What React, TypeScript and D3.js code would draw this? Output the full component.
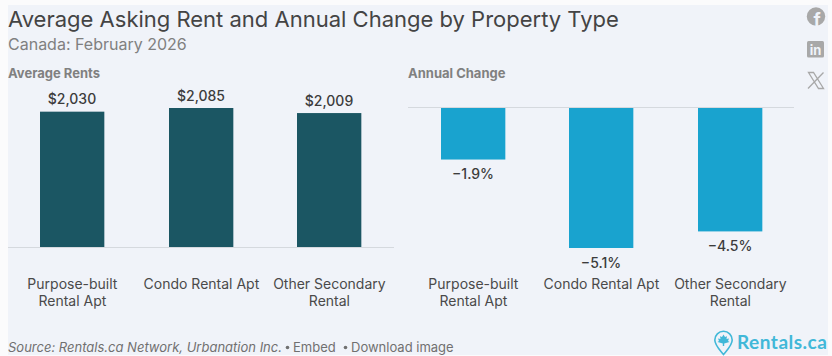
import React from "react";
import * as d3 from "d3";

const categories = ["Purpose-built|Rental Apt", "Condo Rental Apt", "Other Secondary|Rental"];
const rents = [2030, 2085, 2009];
const rentLabels = ["$2,030", "$2,085", "$2,009"];
const changes = [-1.9, -5.1, -4.5];
const changeLabels = ["−1.9%", "−5.1%", "−4.5%"];

const font = "Inter, 'Noto Sans', sans-serif";
const W = 832, H = 356;
const snap = (v: number) => Math.round(v - 0.1);

export default function App() {
  const xL = d3.scaleBand<string>().domain(categories).range([8, 394]).paddingInner(0.5).paddingOuter(0.25);
  const xR = d3.scaleBand<string>().domain(categories).range([408.7, 794.7]).paddingInner(0.5).paddingOuter(0.25);
  const yL = d3.scaleLinear().domain([0, 2085]).range([247, 108]);
  const yR = d3.scaleLinear().domain([-5.1, 0]).range([248, 107]);

  const catLabel = (x: d3.ScaleBand<string>, c: string) => {
    const lines = c.split("|");
    const cx = snap(x(c)!) + 32.4;
    return lines.map((l, j) => (
      <text key={l} x={cx} y={289 + j * 17} textAnchor="middle" fontSize={14} fill="#4a4a4a" fontFamily={font}>{l}</text>
    ));
  };

  return (
    <svg width={W} height={H} style={{ position: "absolute", left: 0, top: 0, background: "#fbfbfc" }}>
      <rect x={8} y={5} width={820} height={350} fill="#f0f3f9" />
      <text x={8} y={27} fontSize={22} fill="#444" fontFamily={font}>Average Asking Rent and Annual Change by Property Type</text>
      <text x={8} y={50} fontSize={16} fill="#808080" fontFamily={font}>Canada: February 2026</text>
      <text x={8} y={78} fontSize={13} fontWeight={700} fill="#808080" fontFamily={font}>Average Rents</text>
      <text x={408} y={78} fontSize={13} fontWeight={700} fill="#808080" fontFamily={font}>Annual Change</text>

      {categories.map((c, i) => (
        <g key={c}>
          <rect x={snap(xL(c)!)} y={yL(rents[i])} width={xL.bandwidth()} height={yL(0) - yL(rents[i])} fill="#1b5663" />
          <text x={snap(xL(c)!) + 32} y={yL(rents[i]) - 7.4} textAnchor="middle" fontSize={14} fontWeight={500} fill="#3c3c3c" fontFamily={font}>{rentLabels[i]}</text>
          {catLabel(xL, c)}
          <rect x={snap(xR(c)!)} y={yR(0)} width={xR.bandwidth()} height={yR(changes[i]) - yR(0)} fill="#19a3cf" />
          <text x={snap(xR(c)!) + 32} y={yR(changes[i]) + 19.5} textAnchor="middle" fontSize={14} fontWeight={500} fill="#3c3c3c" fontFamily={font}>{changeLabels[i]}</text>
          {catLabel(xR, c)}
        </g>
      ))}
      <line x1={8} x2={394} y1={247.5} y2={247.5} stroke="#d5d9de" />
      <line x1={408} x2={794} y1={107.5} y2={107.5} stroke="#d5d9de" />

      <text x={8} y={352} fontSize={13} fontStyle="italic" fill="#707070" fontFamily={font}>Source: Rentals.ca Network, Urbanation Inc.</text>
      <circle cx={287.5} cy={347.5} r={1.8} fill="#707070" />
      <text x={293} y={352} fontSize={13} fill="#707070" fontFamily={font}>Embed</text>
      <circle cx={345.5} cy={347.5} r={1.8} fill="#707070" />
      <text x={351} y={352} fontSize={13} fill="#707070" fontFamily={font}>Download image</text>

      {/* social icons */}
      <circle cx={816} cy={16.5} r={9.2} fill="#a8a8a8" />
      <text x={817} y={26} textAnchor="middle" fontSize={18} fontWeight={700} fill="#f0f3f9" fontFamily={font}>f</text>
      <rect x={807} y={41} width={17} height={16.5} rx={1.5} fill="#a8a8a8" />
      <text x={815.5} y={54.5} textAnchor="middle" fontSize={13} fontWeight={700} fill="#f0f3f9" fontFamily={font}>in</text>
      <path d="M808.5 72.5 L813.5 72.5 L823.5 88.5 L818.5 88.5 Z M823.5 72.5 L808 88.5" fill="none" stroke="#a8a8a8" strokeWidth={1.3} />

      {/* logo */}
      <path d="M723.5 354.5 C719 349 714.8 345 714.8 340 A8.7 8.7 0 0 1 732.2 340 C732.2 345 728 349 723.5 354.5 Z" fill="none" stroke="#41b8d8" strokeWidth={1.6} />
      <path d="M723.5 334.5 L725 337 L727 336.3 L726.5 339 L729 338.5 L728 341 L729.5 342 L724.2 343.5 L724.2 346 L722.8 346 L722.8 343.5 L717.5 342 L719 341 L718 338.5 L720.5 339 L720 336.3 L722 337 Z" fill="#41b8d8" />
      <text x={737} y={349} fontSize={19} fontWeight={700} letterSpacing={0.5} fill="#41b8d8" fontFamily="Lato, Inter, sans-serif">Rentals.ca</text>
    </svg>
  );
}
